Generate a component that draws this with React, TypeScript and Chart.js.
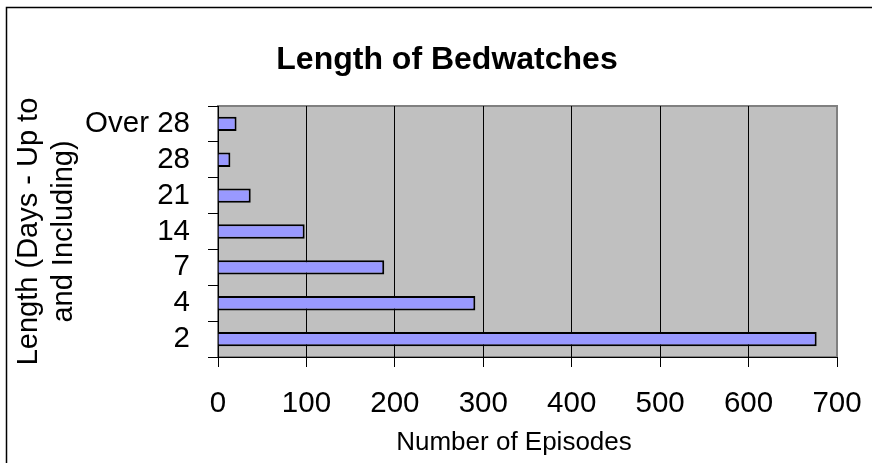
import React, { useEffect, useRef } from 'react';
import { Chart, registerables } from 'chart.js';

Chart.register(...registerables);

const categories = ['Over 28', '28', '21', '14', '7', '4', '2'];
const episodes = [21, 14, 37, 98, 188, 291, 677];
const xMin = 0;
const xMax = 700;
const xStep = 100;
const chartTitle = 'Length of Bedwatches';
const xAxisTitle = 'Number of Episodes';
const yAxisTitle = ['Length (Days - Up to', 'and Including)'];

const FONT = '"Liberation Sans", Arial, Helvetica, sans-serif';

const decorations = {
  id: 'decorations',
  beforeDraw(chart: any) {
    const { ctx, chartArea: a } = chart;
    ctx.save();
    ctx.fillStyle = '#C0C0C0';
    ctx.fillRect(a.left, a.top, a.right - a.left, a.bottom - a.top);
    ctx.strokeStyle = '#808080';
    ctx.lineWidth = 2;
    ctx.strokeRect(a.left, a.top, a.right - a.left, a.bottom - a.top);
    ctx.strokeStyle = '#000';
    ctx.lineWidth = 1.5;
    ctx.beginPath();
    ctx.moveTo(6.5, chart.height);
    ctx.lineTo(6.5, 7.5);
    ctx.lineTo(chart.width, 7.5);
    ctx.stroke();
    ctx.fillStyle = '#000';
    ctx.font = 'bold 32px ' + FONT;
    ctx.textAlign = 'center';
    ctx.textBaseline = 'alphabetic';
    ctx.fillText(chartTitle, 447, 69);
    ctx.font = '26px ' + FONT;
    ctx.textBaseline = 'middle';
    ctx.fillText(xAxisTitle, 514, 443);
    ctx.restore();
  },
};

export default function App() {
  const ref = useRef<HTMLCanvasElement | null>(null);

  useEffect(() => {
    if (!ref.current) return;
    Chart.defaults.font.family = FONT;
    Chart.defaults.color = '#000';
    const chart = new Chart(ref.current, {
      type: 'bar',
      data: {
        labels: categories,
        datasets: [
          {
            data: episodes,
            backgroundColor: '#9999FF',
            borderColor: '#000000',
            borderWidth: 2,
            barPercentage: 0.4,
            categoryPercentage: 1,
          },
        ],
      },
      options: {
        indexAxis: 'y',
        animation: false,
        responsive: false,
        maintainAspectRatio: false,
        layout: { padding: { left: 0, top: 106, right: 35, bottom: 0 } },
        plugins: {
          legend: { display: false },
          title: { display: false },
          tooltip: { enabled: false },
        },
        scales: {
          x: {
            type: 'linear',
            min: xMin,
            max: xMax,
            ticks: {
              stepSize: xStep,
              padding: 19,
              maxRotation: 0,
              autoSkip: false,
              color: '#000',
              font: { size: 29.5, lineHeight: 1.2 },
            },
            grid: {
              color: (c: any) => (c.index === 7 ? '#808080' : '#000000'),
              tickColor: '#000000',
              tickLength: 10,
              lineWidth: 1,
            },
            border: { display: true, color: '#000', width: 1 },
            title: { display: false },
            afterFit(scale: any) {
              scale.height = 106;
              scale.paddingLeft = 0;
              scale.paddingRight = 0;
            },
          },
          y: {
            type: 'category',
            ticks: {
              padding: 18,
              color: '#000',
              autoSkip: false,
              font: { size: 29.5, lineHeight: 1.2 },
            },
            grid: {
              drawOnChartArea: false,
              tickColor: '#000000',
              tickLength: 10,
              lineWidth: 1,
            },
            border: { display: true, color: '#000', width: 1 },
            title: {
              display: true,
              text: yAxisTitle,
              color: '#000',
              font: { size: 29, lineHeight: 1.2 },
              padding: { top: 12, bottom: 0 },
            },
            afterFit(scale: any) {
              scale.width = 218;
              scale.paddingTop = 0;
              scale.paddingBottom = 0;
            },
          },
        },
      },
      plugins: [decorations],
    } as any);
    return () => chart.destroy();
  }, []);

  return (
    <div style={{ position: 'fixed', left: 0, top: 0, width: 872, height: 463, background: '#fff' }}>
      <canvas ref={ref} width={872} height={463} style={{ display: 'block', width: 872, height: 463 }} />
    </div>
  );
}
